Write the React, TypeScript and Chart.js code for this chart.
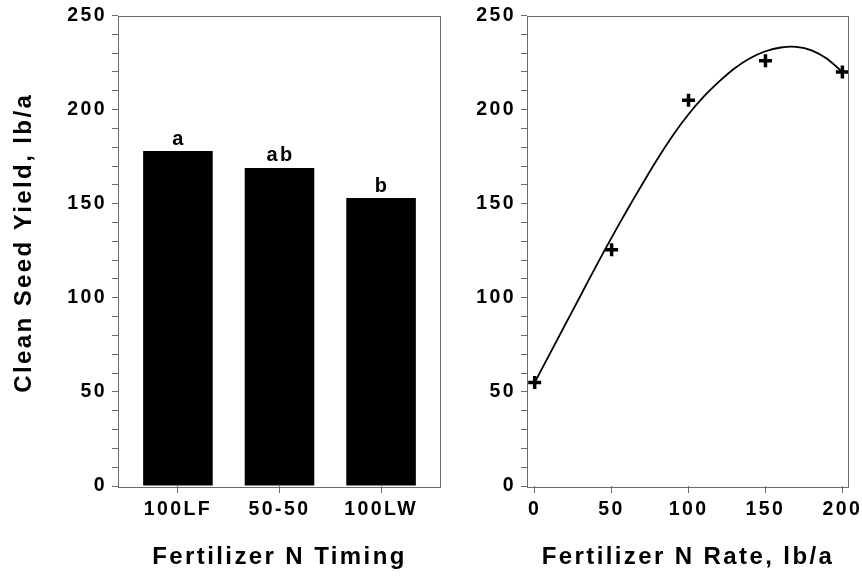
import React, { useEffect, useRef } from "react";
import { Chart, registerables } from "chart.js";

Chart.register(...registerables);

// Left panel: yield by nitrogen timing
const timingLabels = ["100LF", "50-50", "100LW"];
const timingYield = [178, 169, 153];
const timingGroups = ["a", "ab", "b"];

// Right panel: observed yields and the fitted response curve
const rateObserved = [0, 50, 100, 150, 200];
const yieldObserved = [55, 125.5, 205, 226, 220];
const rateCurve = [0, 10, 20, 30, 40, 50, 60, 70, 80, 90, 100, 110, 120, 130, 140, 150, 160, 170, 180, 190, 200];
const yieldCurve = [55, 70.5, 86, 101.5, 117, 132, 146.5, 160.5, 174, 186.5, 197.5, 207, 215, 222, 227.3, 231, 233, 233.3, 231.5, 227, 220];

const rateTicks = [0, 50, 100, 150, 200];

const yAxisTitle = "Clean Seed Yield, lb/a";
const timingTitle = "Fertilizer N Timing";
const rateTitle = "Fertilizer N Rate, lb/a";

const FONT = "'Liberation Sans', Arial, Helvetica, sans-serif";
const AXIS_GRAY = "#6a6a6a";

// Wider tracking for all chart text
const trackedText = {
  id: "trackedText",
  beforeDraw(chart: any) {
    chart.ctx.letterSpacing = "2.4px";
  },
};

// Box around the plotting area
const frame = {
  id: "frame",
  afterDatasetsDraw(chart: any) {
    const { ctx, chartArea: a } = chart;
    ctx.save();
    ctx.strokeStyle = AXIS_GRAY;
    ctx.lineWidth = 1;
    ctx.strokeRect(Math.round(a.left) + 0.5, Math.round(a.top) + 0.5, Math.round(a.right - a.left) - 1, Math.round(a.bottom - a.top));
    ctx.restore();
  },
};

// Significance letters above the bars
const groupLetters = {
  id: "groupLetters",
  afterDatasetsDraw(chart: any) {
    const { ctx } = chart;
    const meta = chart.getDatasetMeta(0);
    ctx.save();
    ctx.font = `bold 20px ${FONT}`;
    ctx.fillStyle = "#000";
    ctx.textAlign = "center";
    ctx.textBaseline = "alphabetic";
    meta.data.forEach((bar: any, i: number) => {
      ctx.fillText(timingGroups[i], bar.x + 1, bar.y - 6.5);
    });
    ctx.restore();
  },
};

// Rotated y-axis title
const yTitle = {
  id: "yTitle",
  afterDraw(chart: any) {
    const { ctx, chartArea } = chart;
    ctx.save();
    ctx.font = `bold 24px ${FONT}`;
    ctx.fillStyle = "#000";
    ctx.textAlign = "center";
    ctx.textBaseline = "middle";
    ctx.translate(24.5, (chartArea.top + chartArea.bottom) / 2 - 8);
    ctx.rotate(-Math.PI / 2);
    ctx.fillText(yAxisTitle, 0, 0);
    ctx.restore();
  },
};

const tickFont = { family: FONT, size: 19.5, weight: "bold" as const };
const titleFont = { family: FONT, size: 24, weight: "bold" as const };

function yieldAxis(width: number) {
  return {
    type: "linear" as const,
    min: 0,
    max: 250,
    ticks: {
      stepSize: 10,
      autoSkip: false,
      padding: 5,
      color: "#000",
      font: tickFont,
      callback: (v: any) => (Number(v) % 50 === 0 ? String(v) : ""),
    },
    grid: { display: true, offset: false, drawOnChartArea: false, drawTicks: true, tickLength: 6, color: AXIS_GRAY },
    border: { display: false },
    afterFit: (s: any) => {
      s.width = width;
      s.paddingTop = 0;
      s.paddingBottom = 0;
    },
  };
}

function bottomAxis(extra: any) {
  return {
    type: "linear" as const,
    offset: false,
    ticks: { autoSkip: false, padding: 5, color: "#000", font: tickFont, maxRotation: 0 },
    grid: { display: true, offset: false, drawOnChartArea: false, drawTicks: true, tickLength: 7, color: AXIS_GRAY },
    border: { display: false },
    afterFit: (s: any) => {
      s.height = 90;
      s.paddingLeft = 0;
      s.paddingRight = 0;
    },
    ...extra,
  };
}

export default function App() {
  const leftRef = useRef<HTMLCanvasElement>(null);
  const rightRef = useRef<HTMLCanvasElement>(null);

  useEffect(() => {
    const left = new Chart(leftRef.current!, {
      type: "bar",
      data: {
        datasets: [
          {
            data: timingYield.map((y, i) => ({ x: i, y })),
            backgroundColor: "#000",
            borderWidth: 0,
            barPercentage: 0.685,
            categoryPercentage: 1,
          },
        ],
      },
      options: {
        responsive: false,
        animation: false,
        devicePixelRatio: 1,
        layout: { padding: { top: 15.5, right: 29, bottom: 0, left: 0 } },
        plugins: { legend: { display: false }, tooltip: { enabled: false } },
        scales: {
          x: bottomAxis({
            min: -0.59,
            max: 2.59,
            afterBuildTicks: (s: any) => {
              s.ticks = timingLabels.map((_, i) => ({ value: i }));
            },
            ticks: {
              autoSkip: false,
              padding: 5,
              color: "#000",
              font: tickFont,
              maxRotation: 0,
              callback: (v: any) => timingLabels[Number(v)] ?? "",
            },
            title: { display: true, text: timingTitle, color: "#000", font: titleFont, padding: { top: 0, bottom: 4 } },
          }),
          y: yieldAxis(118),
        },
      },
      plugins: [trackedText, frame, groupLetters, yTitle],
    } as any);

    const right = new Chart(rightRef.current!, {
      type: "scatter",
      data: {
        datasets: [
          {
            data: rateCurve.map((x, i) => ({ x, y: yieldCurve[i] })),
            showLine: true,
            borderColor: "#000",
            borderWidth: 1.8,
            pointRadius: 0,
            tension: 0.3,
            fill: false,
          },
          {
            data: rateObserved.map((x, i) => ({ x, y: yieldObserved[i] })),
            pointStyle: "cross",
            pointRadius: 6.5,
            borderWidth: 3.5,
            borderColor: "#000",
            backgroundColor: "#000",
            showLine: false,
          },
        ],
      },
      options: {
        responsive: false,
        animation: false,
        devicePixelRatio: 1,
        layout: { padding: { top: 15.5, right: 13, bottom: 0, left: 0 } },
        plugins: { legend: { display: false }, tooltip: { enabled: false } },
        scales: {
          x: bottomAxis({
            min: -5,
            max: 204.3,
            afterBuildTicks: (s: any) => {
              s.ticks = rateTicks.map((v) => ({ value: v }));
            },
            title: { display: true, text: rateTitle, color: "#000", font: titleFont, padding: { top: 0, bottom: 4 } },
          }),
          y: yieldAxis(57),
        },
      },
      plugins: [trackedText, frame],
    } as any);

    return () => {
      left.destroy();
      right.destroy();
    };
  }, []);

  return (
    <div style={{ position: "fixed", left: 0, top: 0, width: 862, height: 576, background: "#fff" }}>
      <canvas ref={leftRef} width={470} height={576} style={{ position: "absolute", left: 0, top: 0 }} />
      <canvas ref={rightRef} width={392} height={576} style={{ position: "absolute", left: 470, top: 0 }} />
    </div>
  );
}
